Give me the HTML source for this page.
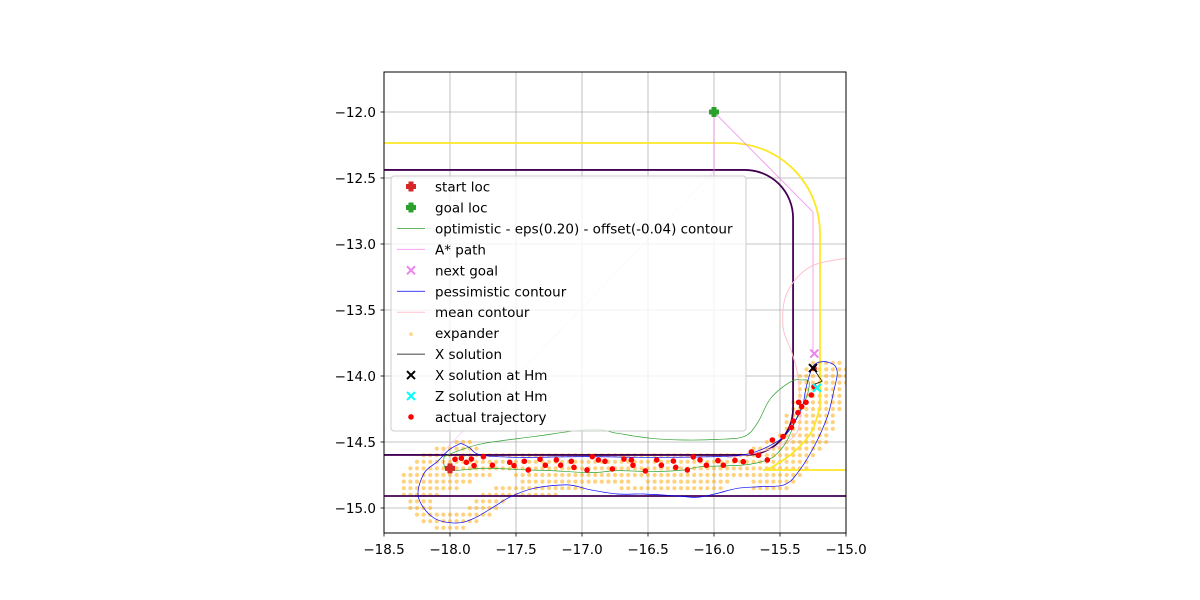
<!DOCTYPE html>
<html><head><meta charset="utf-8"><style>
html,body{margin:0;padding:0;background:#fff;width:1200px;height:600px;overflow:hidden}
svg{display:block;font-family:"DejaVu Sans","Liberation Sans",sans-serif}
</style></head><body>
<svg id="chart" width="1200" height="600" viewBox="0 0 1200 600">
<rect x="0" y="0" width="1200" height="600" fill="#fff"/>
<defs><clipPath id="plotclip"><rect x="384" y="72" width="462" height="461"/></clipPath></defs>
<g id="grid"></g>
<g id="marks" clip-path="url(#plotclip)"></g>
<rect x="384" y="72" width="462" height="461" fill="none" stroke="#000" stroke-width="1"/>
<g id="ticks"></g>
<g id="legend"></g>
</svg>
<script>
const xTicks=[-18.5,-18.0,-17.5,-17.0,-16.5,-16.0,-15.5,-15.0];
const yTicks=[-12.0,-12.5,-13.0,-13.5,-14.0,-14.5,-15.0];
const trajX=[-17.995,-17.962,-17.914,-17.876,-17.838,-17.818,-17.747,-17.679,-17.548,-17.515,-17.437,-17.407,-17.318,-17.278,-17.194,-17.162,-17.081,-17.061,-16.962,-16.922,-16.876,-16.826,-16.770,-16.682,-16.626,-16.614,-16.520,-16.434,-16.399,-16.308,-16.290,-16.202,-16.157,-16.106,-16.058,-15.970,-15.929,-15.841,-15.778,-15.717,-15.664,-15.596,-15.558,-15.477,-15.414,-15.399,-15.364,-15.336,-15.359,-15.303,-15.263,-15.242,-15.242];
const trajY=[-14.692,-14.631,-14.623,-14.654,-14.629,-14.679,-14.611,-14.676,-14.654,-14.679,-14.646,-14.712,-14.631,-14.676,-14.636,-14.676,-14.646,-14.692,-14.712,-14.611,-14.636,-14.646,-14.704,-14.629,-14.636,-14.676,-14.719,-14.636,-14.676,-14.644,-14.692,-14.712,-14.613,-14.636,-14.676,-14.641,-14.676,-14.639,-14.649,-14.575,-14.601,-14.636,-14.485,-14.459,-14.389,-14.341,-14.278,-14.232,-14.199,-14.199,-14.144,-14.081,-13.942];
const pessX=[-17.919,-17.856,-17.768,-17.490,-16.985,-16.480,-15.975,-15.773,-15.647,-15.545,-15.470,-15.394,-15.331,-15.306,-15.280,-15.242,-15.167,-15.091,-15.066,-15.091,-15.141,-15.242,-15.369,-15.470,-15.647,-15.823,-15.975,-16.126,-16.278,-16.530,-16.732,-16.934,-17.111,-17.364,-17.540,-17.667,-17.818,-17.955,-18.130,-18.240,-18.197,-18.096,-18.008,-17.919];
const pessY=[-14.510,-14.540,-14.598,-14.616,-14.611,-14.616,-14.611,-14.598,-14.560,-14.510,-14.459,-14.358,-14.232,-14.106,-14.005,-13.916,-13.891,-13.916,-13.980,-14.106,-14.308,-14.535,-14.737,-14.825,-14.838,-14.851,-14.889,-14.919,-14.909,-14.894,-14.894,-14.863,-14.825,-14.851,-14.914,-14.990,-15.078,-15.114,-15.070,-14.914,-14.737,-14.649,-14.560,-14.510];
const optX=[-18.045,-17.919,-17.742,-17.364,-16.934,-16.732,-16.480,-16.227,-15.975,-15.773,-15.672,-15.571,-15.419,-15.331,-15.280,-15.293,-15.331,-15.381,-15.444,-15.520,-15.596,-15.773,-16.101,-16.227,-16.480,-16.732,-16.934,-17.237,-17.414,-17.742,-17.995,-18.045,-18.045];
const optY=[-14.611,-14.560,-14.510,-14.459,-14.404,-14.434,-14.472,-14.485,-14.480,-14.459,-14.358,-14.169,-14.043,-14.030,-14.043,-14.144,-14.220,-14.333,-14.485,-14.586,-14.636,-14.674,-14.687,-14.712,-14.724,-14.717,-14.732,-14.717,-14.712,-14.699,-14.717,-14.674,-14.611];
const meanX=[-14.992,-15.273,-15.447,-15.477,-15.409,-15.364,-15.348,-15.424,-15.652,-15.900];
const meanY=[-13.106,-13.174,-13.371,-13.629,-13.826,-14.008,-14.333,-14.485,-14.576,-14.620];
const astarX=[-16.0,-16.0,-15.25,-15.25];
const astarY=[-12.45,-12.0,-12.758,-13.833];
const astarFaintX=[-18.076,-16.0];
const astarFaintY=[-14.598,-12.45];
// yellow boundary: straight top, corner radius, vertical, lower curve, bottom
const yellowTop=[-18.5,-12.235];
const yellowCornerR=0.683;
const yellowRightX=-15.197;
const yellowLowX=[-15.197,-15.197,-15.26,-15.40,-15.57,-15.63,-15.0];
const yellowLowY=[-12.918,-14.23,-14.42,-14.58,-14.695,-14.712,-14.712];
// purple boundary
const purpleTopY=-12.439;
const purpleRightX=-15.401;
const purpleBottomY=-14.598;
const purpleR1=0.364;
const purpleR2=0.35;
const purple2X=[-18.5,-15.0];
const purple2Y=[-14.909,-14.909];
const xsolX=[-15.25,-15.18,-15.26];
const xsolY=[-13.94,-14.04,-14.07];
const expRowY=[-13.90,-13.95,-14.00,-14.05,-14.10,-14.15,-14.20,-14.25,-14.30,-14.35,-14.40,-14.45,-14.50,-14.50,-14.55,-14.55,-14.60,-14.65,-14.70,-14.75,-14.75,-14.80,-14.80,-14.80,-14.80,-14.85,-14.85,-14.85,-14.85,-14.90,-14.90,-14.95,-14.95,-15.00,-15.00,-15.05,-15.10,-15.15];
const expRowX0=[-15.25,-15.30,-15.35,-15.35,-15.35,-15.35,-15.40,-15.40,-15.45,-15.45,-15.45,-15.50,-15.60,-17.95,-15.70,-18.10,-18.20,-18.25,-18.30,-18.35,-17.50,-18.35,-17.45,-16.50,-15.70,-18.35,-17.65,-16.70,-15.70,-18.35,-17.75,-18.30,-17.80,-18.30,-17.85,-18.25,-18.20,-18.10];
const expRowX1=[-15.05,-15.00,-15.00,-15.00,-15.05,-15.05,-15.05,-15.05,-15.10,-15.10,-15.10,-15.15,-15.15,-17.85,-15.20,-17.80,-15.25,-15.30,-15.30,-17.70,-15.35,-17.85,-16.65,-15.90,-15.40,-17.95,-17.00,-15.95,-15.45,-18.10,-17.20,-18.15,-17.60,-18.15,-17.65,-17.70,-17.80,-17.90];
const startLoc=[-18.0,-14.7];
const goalLoc=[-16.0,-12.0];
const nextGoal=[-15.24,-13.83];
const xAtHm=[-15.25,-13.94];
const zAtHm=[-15.22,-14.09];
const legendLabels=["start loc","goal loc","optimistic - eps(0.20) - offset(-0.04) contour","A* path","next goal","pessimistic contour","mean contour","expander","X solution","X solution at Hm","Z solution at Hm","actual trajectory"];

const NS="http://www.w3.org/2000/svg";
const X0=384,X1=846,Y0=72,Y1=533,xmin=-18.5,xmax=-15.0;
const ymax=-12.0+40/132, ymin=-15.0-25/132;
const PX=(X1-X0)/(xmax-xmin);
function sx(v){return X0+(v-xmin)/(xmax-xmin)*(X1-X0);}
function sy(v){return Y0+(ymax-v)/(ymax-ymin)*(Y1-Y0);}
function mk(tag,attrs,parent){const e=document.createElementNS(NS,tag);for(const k in attrs)e.setAttribute(k,attrs[k]);parent.appendChild(e);return e;}
const grid=document.getElementById('grid'),marks=document.getElementById('marks'),ticks=document.getElementById('ticks'),leg=document.getElementById('legend');

xTicks.forEach(t=>{
  const g=mk('line',{x1:sx(t),x2:sx(t),y1:Y0,y2:Y1,stroke:'#b0b0b0','stroke-width':0.8},grid);
  
  
  const tk=mk('line',{x1:sx(t),x2:sx(t),y1:Y1,y2:Y1+3.5,stroke:'#000','stroke-width':0.8},ticks);
  
  
  const tx=mk('text',{x:sx(t),y:Y1+21,'text-anchor':'middle','font-size':13.5,fill:'#000'},ticks);
  tx.textContent=t.toFixed(1).replace('-','\u2212');
  
  
});
yTicks.forEach(t=>{
  const g=mk('line',{x1:X0,x2:X1,y1:sy(t),y2:sy(t),stroke:'#b0b0b0','stroke-width':0.8},grid);
  
  
  const tk=mk('line',{x1:X0-3.5,x2:X0,y1:sy(t),y2:sy(t),stroke:'#000','stroke-width':0.8},ticks);
  
  
  const tx=mk('text',{x:X0-8,y:sy(t)+5,'text-anchor':'end','font-size':13.5,fill:'#000'},ticks);
  tx.textContent=t.toFixed(1).replace('-','\u2212');
  
  
});

function line(xs,ys,style,name,closed){
  let d=xs.map((x,i)=>(i?'L':'M')+sx(x).toFixed(2)+','+sy(ys[i]).toFixed(2)).join('');
  if(closed)d+='Z';
  const p=mk('path',Object.assign({d:d,fill:'none','stroke-linejoin':'round'},style),marks);
  
  
  return p;
}
function smoothD(xs,ys){
  const P=xs.map((x,i)=>[sx(x),sy(ys[i])]);
  let d='';
  for(let i=0;i<P.length-1;i++){
    const p0=P[Math.max(0,i-1)],p1=P[i],p2=P[i+1],p3=P[Math.min(P.length-1,i+2)];
    const c1=[p1[0]+(p2[0]-p0[0])/6,p1[1]+(p2[1]-p0[1])/6],c2=[p2[0]-(p3[0]-p1[0])/6,p2[1]-(p3[1]-p1[1])/6];
    d+='C'+c1[0].toFixed(2)+','+c1[1].toFixed(2)+' '+c2[0].toFixed(2)+','+c2[1].toFixed(2)+' '+p2[0].toFixed(2)+','+p2[1].toFixed(2);
  }
  return d;
}
function smooth(xs,ys,style,name){
  const d='M'+sx(xs[0])+','+sy(ys[0])+smoothD(xs,ys);
  const p=mk('path',Object.assign({d:d,fill:'none'},style),marks);
  
  
  return p;
}

// expander dots
expRowY.forEach((y,i)=>{
  for(let x=expRowX0[i];x<=expRowX1[i]+1e-6;x+=0.05){
    const c=mk('circle',{cx:sx(x),cy:sy(y),r:2.1,fill:'#ffa500','fill-opacity':0.5},marks);
    
    
  }
});

// yellow
{
  const r=yellowCornerR*PX;
  const cxs=sx(yellowRightX-yellowCornerR);
  let d=`M${sx(yellowTop[0])},${sy(yellowTop[1])}L${cxs},${sy(yellowTop[1])}A${r},${r} 0 0 1 ${sx(yellowRightX)},${sy(yellowTop[1])+r}`;
  d+=`L${sx(yellowLowX[1])},${sy(yellowLowY[1])}`+smoothD(yellowLowX.slice(1,6),yellowLowY.slice(1,6))+`L${sx(yellowLowX[6])},${sy(yellowLowY[6])}`;
  const p=mk('path',{d:d,fill:'none',stroke:'#fde725','stroke-width':1.8},marks);
  
  
}
// purple
{
  const r1=purpleR1*PX,r2=purpleR2*PX;
  const xr=sx(purpleRightX);
  let d=`M${sx(xmin)},${sy(purpleTopY)}L${xr-r1},${sy(purpleTopY)}A${r1},${r1} 0 0 1 ${xr},${sy(purpleTopY)+r1}L${xr},${sy(purpleBottomY)-r2}A${r2},${r2} 0 0 1 ${xr-r2},${sy(purpleBottomY)}L${sx(xmin)},${sy(purpleBottomY)}`;
  const p=mk('path',{d:d,fill:'none',stroke:'#440154','stroke-width':1.8},marks);
  
  
}
line(purple2X,purple2Y,{stroke:'#440154','stroke-width':1.8},'purple-boundary-outer');
line(astarFaintX,astarFaintY,{stroke:'#ee82ee','stroke-width':0.8,'stroke-opacity':0.35},'astar-path-faint');
line(astarX,astarY,{stroke:'#ee82ee','stroke-width':1,'stroke-opacity':0.75},'astar-path');
smooth(meanX,meanY,{stroke:'#ffc0cb','stroke-width':1},'mean-contour');
smooth(optX,optY,{stroke:'#2ca02c','stroke-width':0.7},'optimistic-contour');
smooth(pessX,pessY,{stroke:'#0000ff','stroke-width':0.7},'pessimistic-contour');
line(xsolX,xsolY,{stroke:'#000','stroke-width':0.7},'x-solution');

trajX.forEach((x,i)=>{
  const c=mk('circle',{cx:sx(x),cy:sy(trajY[i]),r:2.8,fill:'#ff0000'},marks);
  
  
});

function plus(cx,cy,color,parent,s){
  const a=s*0.45;
  const d=`M${cx-a},${cy-s}h${2*a}v${s-a}h${s-a}v${2*a}h-${s-a}v${s-a}h-${2*a}v-${s-a}h-${s-a}v-${2*a}h${s-a}z`;
  return mk('path',{d:d,fill:color,stroke:color,'stroke-width':1,'stroke-linejoin':'round'},parent);
}
function cross(cx,cy,color,parent,s,w){
  return mk('path',{d:`M${cx-s},${cy-s}L${cx+s},${cy+s}M${cx-s},${cy+s}L${cx+s},${cy-s}`,stroke:color,'stroke-width':w,fill:'none'},parent);
}
let m=plus(sx(startLoc[0]),sy(startLoc[1]),'#d62728',marks,4.5);


m=plus(sx(goalLoc[0]),sy(goalLoc[1]),'#2ca02c',marks,4.5);


m=cross(sx(nextGoal[0]),sy(nextGoal[1]),'#ee82ee',marks,4,2);


m=cross(sx(xAtHm[0]),sy(xAtHm[1]),'#000',marks,4,2);


m=cross(sx(zAtHm[0]),sy(zAtHm[1]),'#00ffff',marks,4,2);



// legend
const lb=mk('rect',{x:391,y:176,width:355,height:255,rx:3,fill:'#fff','fill-opacity':0.8,stroke:'#cccccc','stroke-width':1},leg);


legendLabels.forEach((lab,i)=>{
  const y=186.5+i*20.95;
  const hx=411;
  let h;
  if(i===0)h=plus(hx,y,'#d62728',leg,4.5);
  else if(i===1)h=plus(hx,y,'#2ca02c',leg,4.5);
  else if(i===2)h=mk('line',{x1:397,x2:425,y1:y,y2:y,stroke:'#2ca02c','stroke-width':0.8},leg);
  else if(i===3)h=mk('line',{x1:397,x2:425,y1:y,y2:y,stroke:'#ee82ee','stroke-width':1,'stroke-opacity':0.75},leg);
  else if(i===4)h=cross(hx,y,'#ee82ee',leg,4,2);
  else if(i===5)h=mk('line',{x1:397,x2:425,y1:y,y2:y,stroke:'#0000ff','stroke-width':0.8},leg);
  else if(i===6)h=mk('line',{x1:397,x2:425,y1:y,y2:y,stroke:'#ffc0cb','stroke-width':1},leg);
  else if(i===7)h=mk('circle',{cx:hx,cy:y+1,r:1.9,fill:'#ffa500','fill-opacity':0.45},leg);
  else if(i===8)h=mk('line',{x1:397,x2:425,y1:y,y2:y,stroke:'#000','stroke-width':0.8},leg);
  else if(i===9)h=cross(hx,y,'#000',leg,4,2);
  else if(i===10)h=cross(hx,y,'#00ffff',leg,4,2);
  else h=mk('circle',{cx:hx,cy:y,r:2.8,fill:'#ff0000'},leg);
  
  
  const t=mk('text',{x:435,y:y+5,'font-size':13.5,fill:'#000'},leg);
  t.textContent=lab;
  
  
});
</script>
</body></html>
